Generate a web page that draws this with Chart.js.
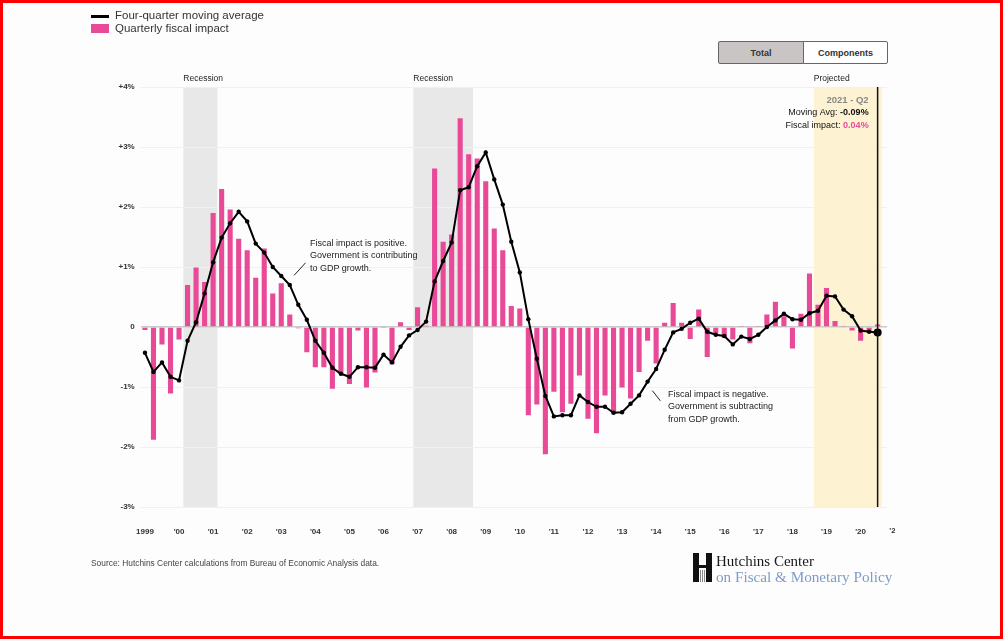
<!DOCTYPE html>
<html><head><meta charset="utf-8">
<script src="https://cdn.jsdelivr.net/npm/chart.js@4.4.1/dist/chart.umd.min.js"></script>
<style>
html,body{margin:0;padding:0;background:#fff;}
#wrap{position:relative;width:1003px;height:639px;overflow:hidden;background:#fdfdfd;font-family:"Liberation Sans",Arial,sans-serif;color:#222;}
#frame{position:absolute;left:0;top:0;width:1003px;height:639px;box-sizing:border-box;border:3px solid #ff0000;pointer-events:none;z-index:5}
#c{position:absolute;left:0;top:0;}
.abs{position:absolute;white-space:nowrap;}
.leg{font-size:11.5px;color:#333;}
.btn{position:absolute;top:41px;height:23px;line-height:23px;text-align:center;font-size:9px;font-weight:bold;color:#333;border:1px solid #666;box-sizing:border-box;}
.note{font-size:9px;line-height:12.3px;color:#222;}
</style></head>
<body>
<div id="wrap">
<canvas id="c" width="1003" height="639"></canvas>
<div class="abs" style="left:91px;top:15px;width:18px;height:3px;background:#000"></div>
<div class="abs leg" style="left:115px;top:9px;">Four-quarter moving average</div>
<div class="abs" style="left:91px;top:24px;width:18px;height:9px;background:#e84a98"></div>
<div class="abs leg" style="left:115px;top:22px;">Quarterly fiscal impact</div>
<div class="btn" style="left:718px;width:86px;background:#c9c5c5;border-radius:2px 0 0 2px;">Total</div>
<div class="btn" style="left:803px;width:85px;background:#fff;border-radius:0 2px 2px 0;">Components</div>
<div class="abs note" style="left:310px;top:237px;">Fiscal impact is positive.<br>Government is contributing<br>to GDP growth.</div>
<div class="abs note" style="left:668px;top:388px;">Fiscal impact is negative.<br>Government is subtracting<br>from GDP growth.</div>
<div class="abs" style="left:91px;top:558px;font-size:8.4px;color:#444;">Source: Hutchins Center calculations from Bureau of Economic Analysis data.</div>
<div class="abs" style="left:693px;top:553px;width:6px;height:29px;background:#111"></div>
<div class="abs" style="left:706px;top:553px;width:6px;height:29px;background:#111"></div>
<div class="abs" style="left:699px;top:565px;width:7px;height:3px;background:#111"></div>
<div class="abs" style="left:700px;top:570px;width:1px;height:12px;background:#888"></div>
<div class="abs" style="left:702px;top:570px;width:1px;height:12px;background:#888"></div>
<div class="abs" style="left:704px;top:570px;width:1px;height:12px;background:#888"></div>
<div class="abs" style="left:716px;top:553px;font-family:'Liberation Serif','Times New Roman',serif;font-size:15px;color:#1a1a1a;">Hutchins Center</div>
<div class="abs" style="left:716px;top:568px;font-family:'Liberation Serif','Times New Roman',serif;font-size:15.2px;color:#7f9cc4;">on Fiscal &amp; Monetary Policy</div>
<div id="frame"></div>
</div>
<script>
const categories = [
"1999 Q4",
"2000 Q1","2000 Q2","2000 Q3","2000 Q4",
"2001 Q1","2001 Q2","2001 Q3","2001 Q4",
"2002 Q1","2002 Q2","2002 Q3","2002 Q4",
"2003 Q1","2003 Q2","2003 Q3","2003 Q4",
"2004 Q1","2004 Q2","2004 Q3","2004 Q4",
"2005 Q1","2005 Q2","2005 Q3","2005 Q4",
"2006 Q1","2006 Q2","2006 Q3","2006 Q4",
"2007 Q1","2007 Q2","2007 Q3","2007 Q4",
"2008 Q1","2008 Q2","2008 Q3","2008 Q4",
"2009 Q1","2009 Q2","2009 Q3","2009 Q4",
"2010 Q1","2010 Q2","2010 Q3","2010 Q4",
"2011 Q1","2011 Q2","2011 Q3","2011 Q4",
"2012 Q1","2012 Q2","2012 Q3","2012 Q4",
"2013 Q1","2013 Q2","2013 Q3","2013 Q4",
"2014 Q1","2014 Q2","2014 Q3","2014 Q4",
"2015 Q1","2015 Q2","2015 Q3","2015 Q4",
"2016 Q1","2016 Q2","2016 Q3","2016 Q4",
"2017 Q1","2017 Q2","2017 Q3","2017 Q4",
"2018 Q1","2018 Q2","2018 Q3","2018 Q4",
"2019 Q1","2019 Q2","2019 Q3","2019 Q4",
"2020 Q1","2020 Q2","2020 Q3","2020 Q4",
"2021 Q1","2021 Q2"];

const fiscalImpact = [
-0.05,
-1.88,-0.29,-1.11,-0.21,
0.70,0.99,0.75,1.90,
2.30,1.96,1.47,1.28,
0.82,1.31,0.56,0.73,
0.21,-0.02,-0.42,-0.67,
-0.67,-1.03,-0.78,-0.95,
-0.06,-1.01,-0.76,-0.01,
-0.62,0.08,-0.05,0.33,
0.02,2.64,1.42,1.54,
3.48,2.88,2.81,2.43,
1.64,1.28,0.35,0.31,
-1.47,-1.29,-2.12,-1.08,
-1.42,-1.28,-0.81,-1.53,
-1.77,-1.14,-1.44,-1.01,
-1.19,-0.75,-0.23,-0.61,
0.07,0.40,0.07,-0.20,
0.29,-0.50,-0.11,-0.18,
-0.21,0.01,-0.27,0.01,
0.21,0.42,0.18,-0.36,
0.22,0.89,0.37,0.65,
0.10,0.01,-0.06,-0.23,
-0.08,0.04];

const movingAverage = [
-0.43,
-0.75,-0.59,-0.83,-0.89,
-0.23,0.08,0.56,1.08,
1.49,1.73,1.92,1.76,
1.39,1.24,1.00,0.85,
0.70,0.37,0.12,-0.23,
-0.43,-0.68,-0.78,-0.83,
-0.67,-0.67,-0.68,-0.46,
-0.59,-0.33,-0.14,-0.05,
0.09,0.76,1.10,1.41,
2.28,2.33,2.68,2.91,
2.46,2.04,1.42,0.91,
0.13,-0.53,-1.15,-1.49,
-1.47,-1.47,-1.14,-1.25,
-1.33,-1.33,-1.43,-1.42,
-1.28,-1.14,-0.91,-0.70,
-0.38,-0.09,-0.03,0.07,
0.14,-0.08,-0.13,-0.15,
-0.29,-0.16,-0.20,-0.13,
0.00,0.11,0.22,0.13,
0.12,0.23,0.27,0.52,
0.51,0.29,0.18,-0.06,
-0.08,-0.09];

const yearTickLabels = ["1999","'00","'01","'02","'03","'04","'05","'06","'07","'08","'09","'10","'11","'12","'13","'14","'15","'16","'17","'18","'19","'20","'21"];
const yTickValues = [-3,-2,-1,0,1,2,3,4];
const yTickLabels = ["-3%","-2%","-1%","0","+1%","+2%","+3%","+4%"];
const recessions = [["2001 Q1","2001 Q4"],["2007 Q4","2009 Q2"]];
const projectedFrom = "2019 Q3";
const selectedQuarter = "2021 Q2";

const PINK = "#e84a98";
const idx = q => categories.indexOf(q);
const yearTickIndex = yearTickLabels.map((l,k)=>k*4); // Q4 of each year, 1999 Q4 is index 0
const sel = idx(selectedQuarter);

const decor = {
  id:'decor',
  beforeDraw(chart){
    const {ctx, chartArea:a, scales:{x,y}} = chart;
    ctx.save();
    ctx.fillStyle = "#e8e8e8";
    recessions.forEach(([s,e])=>{
      const x0 = x.getPixelForValue(idx(s)-0.5), x1 = x.getPixelForValue(idx(e)+0.5);
      ctx.fillRect(x0, a.top, x1-x0, a.bottom-a.top);
    });
    ctx.fillStyle = "#fdf3d2";
    const p0 = x.getPixelForValue(idx(projectedFrom)-0.5), p1 = x.getPixelForValue(categories.length-0.5);
    ctx.fillRect(p0, a.top, p1-p0, a.bottom-a.top);
    ctx.fillStyle = "#222";
    ctx.font = "8.5px 'Liberation Sans', Arial, sans-serif";
    ctx.textBaseline = "middle";
    ctx.textAlign = "left";
    recessions.forEach(([s])=>ctx.fillText("Recession", x.getPixelForValue(idx(s)-0.5), a.top-8));
    ctx.fillText("Projected", p0, a.top-8);
    ctx.restore();
  },
  afterDatasetsDraw(chart){
    const {ctx, chartArea:a, scales:{x,y}} = chart;
    ctx.save();
    ctx.strokeStyle = "#222"; ctx.lineWidth = 1;
    ctx.beginPath();
    ctx.moveTo(x.getPixelForValue(17.5), y.getPixelForValue(0.86));
    ctx.lineTo(x.getPixelForValue(18.85), y.getPixelForValue(1.07));
    ctx.moveTo(x.getPixelForValue(59.55), y.getPixelForValue(-1.06));
    ctx.lineTo(x.getPixelForValue(60.5), y.getPixelForValue(-1.23));
    ctx.stroke();
    const sx = x.getPixelForValue(sel);
    ctx.strokeStyle = "#111"; ctx.lineWidth = 1.5;
    ctx.beginPath(); ctx.moveTo(sx, a.top); ctx.lineTo(sx, a.bottom); ctx.stroke();
    const tx = sx - 9;
    ctx.textAlign = "right"; ctx.textBaseline = "middle";
    ctx.font = "bold 9.5px 'Liberation Sans', Arial, sans-serif";
    ctx.fillStyle = "#888";
    ctx.fillText(selectedQuarter.replace(" ", " - "), tx, a.top+13);
    const rows = [["Moving Avg: ", movingAverage[sel].toFixed(2)+"%", "#111"],["Fiscal impact: ", fiscalImpact[sel].toFixed(2)+"%", PINK]];
    rows.forEach(([lab,val,col],k)=>{
      const yy = a.top+26+k*13;
      ctx.font = "bold 9px 'Liberation Sans', Arial, sans-serif";
      ctx.fillStyle = col; ctx.fillText(val, tx, yy);
      const w = ctx.measureText(val).width;
      ctx.font = "9px 'Liberation Sans', Arial, sans-serif";
      ctx.fillStyle = "#111"; ctx.fillText(lab, tx-w, yy);
    });
    ctx.beginPath(); ctx.rect(0,0,895,639); ctx.clip();
    ctx.font = "bold 8px 'Liberation Sans', Arial, sans-serif";
    ctx.textAlign = "center"; ctx.textBaseline = "top"; ctx.fillStyle = "#333";
    const lastK = yearTickLabels.length-1;
    ctx.fillText(yearTickLabels[lastK], x.getPixelForValue(yearTickIndex[lastK]), a.bottom+20);
    ctx.restore();
  }
};

new Chart(document.getElementById('c'), {
  type:'bar',
  data:{
    datasets:[
      {type:'line', label:'Four-quarter moving average', data: movingAverage.map((v,i)=>({x:i,y:v})),
       borderColor:'#000', borderWidth:2, tension:0,
       pointRadius: movingAverage.map((v,i)=> i===sel?4:2.2),
       pointBackgroundColor:'#000', pointBorderColor:'#000', pointBorderWidth:0, order:0},
      {type:'bar', label:'Quarterly fiscal impact', data: fiscalImpact.map((v,i)=>({x:i,y:v})),
       backgroundColor:PINK, borderWidth:0, barPercentage:0.6, categoryPercentage:1, order:1}
    ]
  },
  options:{
    responsive:false, animation:false,
    layout:{padding:{left:100,right:116,top:87,bottom:100}},
    plugins:{legend:{display:false}, tooltip:{enabled:false}},
    scales:{
      x:{type:'linear', min:-0.5, max:87.1, offset:false,
         grid:{display:false, drawTicks:false}, border:{display:false},
         afterBuildTicks(s){ s.ticks = yearTickIndex.filter(v=>v<=s.max).map(v=>({value:v})); },
         afterFit(s){ s.height = 32; },
         ticks:{autoSkip:false, maxRotation:0, padding:20, color:'#333',
           font:{family:"'Liberation Sans', Arial, sans-serif", size:8, weight:'bold'},
           callback:(v)=> yearTickLabels[yearTickIndex.indexOf(v)] }},
      y:{min:-3, max:4,
         grid:{drawTicks:false, color:(c)=> c.tick && c.tick.value===0 ? '#c9c9c9' : '#f0f0f0', lineWidth:(c)=> c.tick && c.tick.value===0 ? 1.5 : 1},
         border:{display:false},
         afterBuildTicks(s){ s.ticks = yTickValues.map(v=>({value:v})); },
         afterFit(s){ s.width = 40.7; },
         ticks:{padding:6, color:'#333',
           font:{family:"'Liberation Sans', Arial, sans-serif", size:8, weight:'bold'},
           callback:(v)=> yTickLabels[yTickValues.indexOf(v)] }}
    }
  },
  plugins:[decor]
});
</script>
</body></html>
